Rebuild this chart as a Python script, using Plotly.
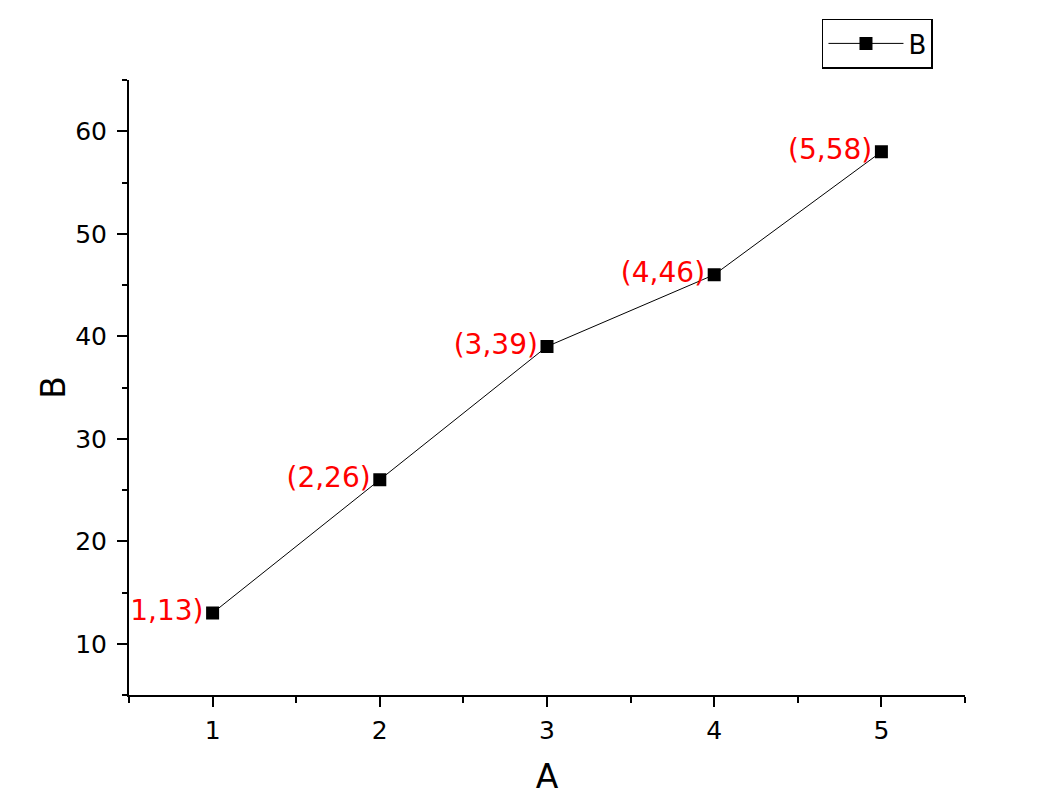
import plotly.graph_objects as go

A = [1, 2, 3, 4, 5]
B = [13, 26, 39, 46, 58]
labels = [f"({a},{b})" for a, b in zip(A, B)]

FONT = "DejaVu Sans, Liberation Sans, Arial"

fig = go.Figure()
fig.add_trace(go.Scatter(
    x=A, y=B, name="B", mode="lines+markers+text",
    line=dict(color="black", width=1),
    marker=dict(symbol="square", size=13, color="black"),
    text=labels, textposition="middle left",
    textfont=dict(family=FONT, size=28, color="#ff0000"),
    cliponaxis=True,
))

axis_common = dict(
    showgrid=False, zeroline=False, showline=True, linecolor="black", linewidth=2,
    ticks="outside", ticklen=10, tickwidth=2, tickcolor="black",
    tickfont=dict(family=FONT, size=25, color="black"),
    title_font=dict(family=FONT, size=33, color="black"),
    mirror=False,
)

fig.update_xaxes(range=[0.5, 5.5], dtick=1, title_text="A", title_standoff=21,
                 minor=dict(dtick=0.5, ticks="outside", ticklen=6, tickwidth=2, tickcolor="black"),
                 ticklabelstandoff=2,
                 **axis_common)
fig.update_yaxes(range=[5, 65], dtick=10, title_text="B", title_standoff=0,
                 minor=dict(dtick=5, ticks="outside", ticklen=5, tickwidth=2, tickcolor="black"),
                 ticklabelstandoff=5,
                 **axis_common)

fig.update_layout(
    width=1025, height=791,
    margin=dict(l=121, r=68, t=72, b=104, autoexpand=False),
    plot_bgcolor="white", paper_bgcolor="white",
    showlegend=True,
    legend=dict(x=0.9617, y=1.1, xanchor="right", yanchor="top",
                bordercolor="black", borderwidth=1.5, bgcolor="white",
                font=dict(family=FONT, size=26, color="black"),
                itemwidth=75, tracegroupgap=0),
)

fig.write_html("out.html")
